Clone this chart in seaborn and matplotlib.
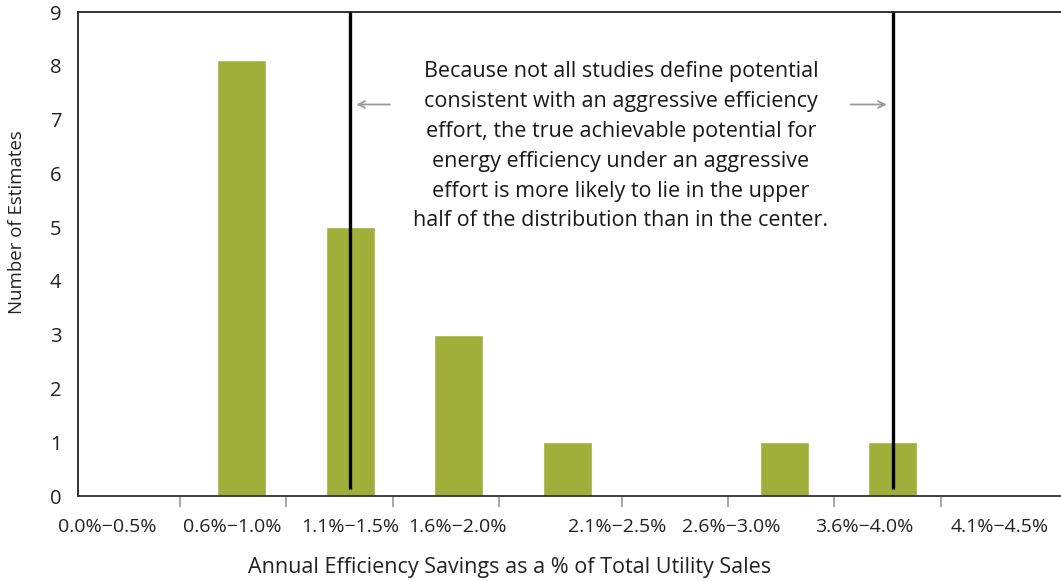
import matplotlib
matplotlib.use("Agg")
import matplotlib.pyplot as plt
import seaborn as sns
import pandas as pd

# ---- data ----
bins = ["0.0%–0.5%", "0.6%–1.0%", "1.1%–1.5%", "1.6%–2.0%", "2.1%–2.5%",
        "2.6%–3.0%", "3.1%–3.5%", "3.6%–4.0%", "4.1%–4.5%"]
counts = [0, 8.1, 5, 3, 1, 0, 1, 1, 0]
tick_labels = ["0.0%\u22120.5%", "0.6%\u22121.0%", "1.1%\u22121.5%", "1.6%\u22122.0%",
               "2.1%\u22122.5%", "2.6%\u22123.0%", "3.6%\u22124.0%", "4.1%\u22124.5%"]
y_ticks = [0, 1, 2, 3, 4, 5, 6, 7, 8, 9]
marker_bins = ["1.1%–1.5%", "3.6%–4.0%"]
note = ("Because not all studies define potential\n"
        "consistent with an aggressive efficiency\n"
        "effort, the true achievable potential for\n"
        "energy efficiency under an aggressive\n"
        "effort is more likely to lie in the upper\n"
        "half of the distribution than in the center.")

df = pd.DataFrame({"bin": bins, "count": counts})

sns.set_theme(style="white")
plt.rcParams["font.family"] = ["Open Sans", "DejaVu Sans"]

fig = plt.figure(figsize=(10.61, 5.81), dpi=100)
ax = fig.add_axes([78 / 1061, 1 - 496 / 581, 1 - 78 / 1061, (496 - 12) / 581])

sns.barplot(data=df, x="bin", y="count", order=bins, color="#A0AF3A",
            saturation=1, width=0.45, ax=ax)

ax.set_ylim(0, 9)
ax.set_xlim(-0.51, 8.55)
ax.set_yticks(y_ticks)
ax.set_yticklabels([str(v) for v in y_ticks], fontsize=14.5, color="#222222")
ax.tick_params(axis="y", length=0, pad=12)

# tick marks and labels positioned as in reference
major_pos = [0.429, 1.406, 2.392, 3.369, 4.502, 5.479, 6.456, 7.442]
label_pos = [-0.245, 0.908, 1.995, 2.99, 4.456, 5.507, 6.74, 7.986]
ax.set_xticks(major_pos)
ax.set_xticklabels([""] * len(major_pos))
ax.tick_params(axis="x", which="major", length=8, width=1.2, color="#999999",
               direction="out", bottom=True)
ax.set_xticks(label_pos, minor=True)
ax.set_xticklabels(tick_labels, minor=True, fontsize=14, color="#222222")
ax.tick_params(axis="x", which="minor", length=0, pad=16)

for s in ["left", "top"]:
    ax.spines[s].set_color("#222222")
    ax.spines[s].set_linewidth(1.3)
ax.spines["bottom"].set_color("#333333")
ax.spines["bottom"].set_linewidth(1.3)
ax.spines["right"].set_visible(False)

ax.set_xlabel("")
ax.set_ylabel("")
fig.text(510 / 1061, 1 - 567 / 581, "Annual Efficiency Savings as a % of Total Utility Sales",
         ha="center", va="center", fontsize=15.5, color="#222222")
fig.text(17 / 1061, 1 - 222 / 581, "Number of Estimates", rotation=90,
         ha="center", va="center", fontsize=13.4, color="#222222")

# vertical marker lines
for b in marker_bins:
    xi = bins.index(b)
    ax.plot([xi, xi], [0.13, 9], color="black", linewidth=2.4, solid_capstyle="butt",
            zorder=5)

# annotation text with arrows
ax.text(4.493, 6.50, note, ha="center", va="center", fontsize=15.5,
        color="#1a1a1a", linespacing=1.55)
ax.annotate("", xy=(bins.index(marker_bins[0]) + 0.03, 7.28), xytext=(2.39, 7.28),
            arrowprops=dict(arrowstyle="->", color="#999999", lw=1.3))
ax.annotate("", xy=(bins.index(marker_bins[1]) - 0.03, 7.28), xytext=(6.585, 7.28),
            arrowprops=dict(arrowstyle="->", color="#999999", lw=1.3))

fig.savefig("out.png", dpi=100)
